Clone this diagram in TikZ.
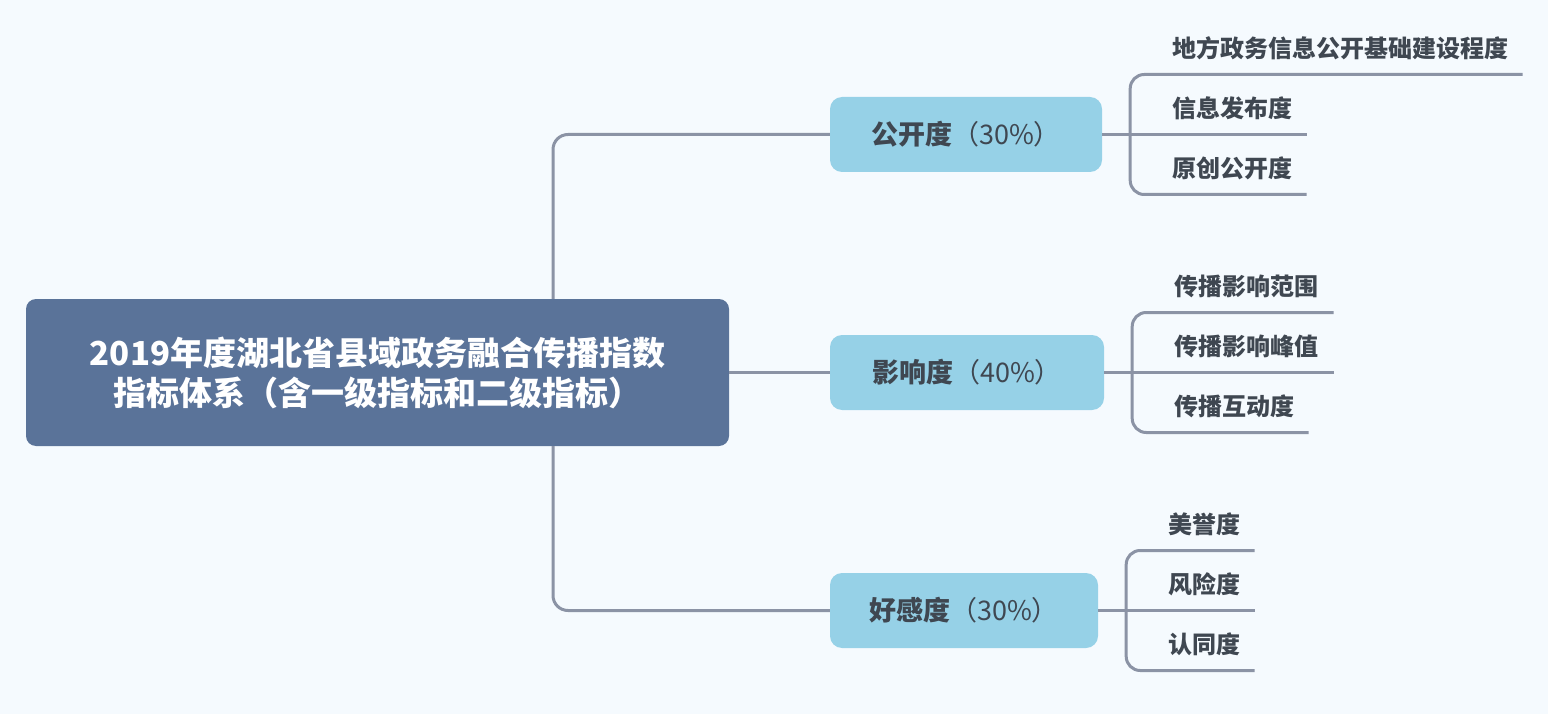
\documentclass[tikz,border=0pt]{standalone}
\usepackage{fontspec}
\newfontfamily\cjk{Noto Sans CJK SC}
\usetikzlibrary{calc}
\definecolor{bgcol}{HTML}{F5FAFE}
\definecolor{rootcol}{HTML}{5A7399}
\definecolor{topiccol}{HTML}{96D1E7}
\definecolor{linecol}{HTML}{8B93A5}
\definecolor{textcol}{HTML}{3F4751}

\tikzset{
  link/.style={draw=linecol, line width=3pt},
  rootbox/.style={fill=rootcol, rounded corners=10pt, minimum width=703pt, minimum height=147pt,
    text=white, align=center, font=\cjk\bfseries\fontsize{33}{40}\selectfont},
  topic/.style={fill=topiccol, rounded corners=12pt, minimum height=75pt, text=textcol,
    font=\cjk\fontsize{27}{32}\selectfont},
  leaf/.style={anchor=south west, inner xsep=0pt, inner ysep=12pt, text depth=5pt, align=left,
    text=textcol, font=\cjk\bfseries\fontsize{24}{28}\selectfont},
}

\begin{document}
\begin{tikzpicture}[x=1pt,y=1pt]
\def\gap{42pt}
\fill[bgcol] (0,0) rectangle (1548,-714);
\useasboundingbox (0,0) rectangle (1548,-714);
\coordinate (trunk) at (553,0);

\node[rootbox] (root) at (377.5,-372.5) {2019年度湖北省县域政务融合传播指数\\指标体系（含一级指标和二级指标）};
\node[topic, minimum width=272pt] (open) at (966,-134.5) {{\bfseries 公开度}（30\%）};
\node[topic, minimum width=274pt] (effect) at (967,-372.5) {{\bfseries 影响度}（40\%）};
\node[topic, minimum width=268pt] (favor) at (964,-610.5) {{\bfseries 好感度}（30\%）};

% second level
\node[leaf, text width=134pt] (open2) at ($(open.east)+(70pt,0)$) {信息发布度};
\node[leaf, text width=350pt] (open1) at ($(open2.south west)+(0,60pt)$) {地方政务信息公开基础建设程度};
\node[leaf, text width=134pt] (open3) at ($(open2.south west)+(0,-60pt)$) {原创公开度};

\node[leaf, text width=159pt] (effect2) at ($(effect.east)+(70pt,0)$) {传播影响峰值};
\node[leaf, text width=159pt] (effect1) at ($(effect2.south west)+(0,60pt)$) {传播影响范围};
\node[leaf, text width=134pt] (effect3) at ($(effect2.south west)+(0,-60pt)$) {传播互动度};

\node[leaf, text width=86pt] (favor2) at ($(favor.east)+(70pt,0)$) {风险度};
\node[leaf, text width=86pt] (favor1) at ($(favor2.south west)+(0,60pt)$) {美誉度};
\node[leaf, text width=86pt] (favor3) at ($(favor2.south west)+(0,-60pt)$) {认同度};

% trunk
\draw[link, rounded corners=15pt] (root.north -| trunk) |- (open.west);
\draw[link, rounded corners=15pt] (root.south -| trunk) |- (favor.west);
\draw[link] (root.east) -- (effect.west);

% brackets
\draw[link] (open.east) -- (open2.south east);
\draw[link, rounded corners=14pt] (open1.south east) -- ([xshift=-\gap]open1.south west)
  -- ([xshift=-\gap]open3.south west) -- (open3.south east);
\draw[link] (effect.east) -- (effect2.south east);
\draw[link, rounded corners=14pt] (effect1.south east) -- ([xshift=-\gap]effect1.south west)
  -- ([xshift=-\gap]effect3.south west) -- (effect3.south east);
\draw[link] (favor.east) -- (favor2.south east);
\draw[link, rounded corners=14pt] (favor1.south east) -- ([xshift=-\gap]favor1.south west)
  -- ([xshift=-\gap]favor3.south west) -- (favor3.south east);
\end{tikzpicture}
\end{document}
